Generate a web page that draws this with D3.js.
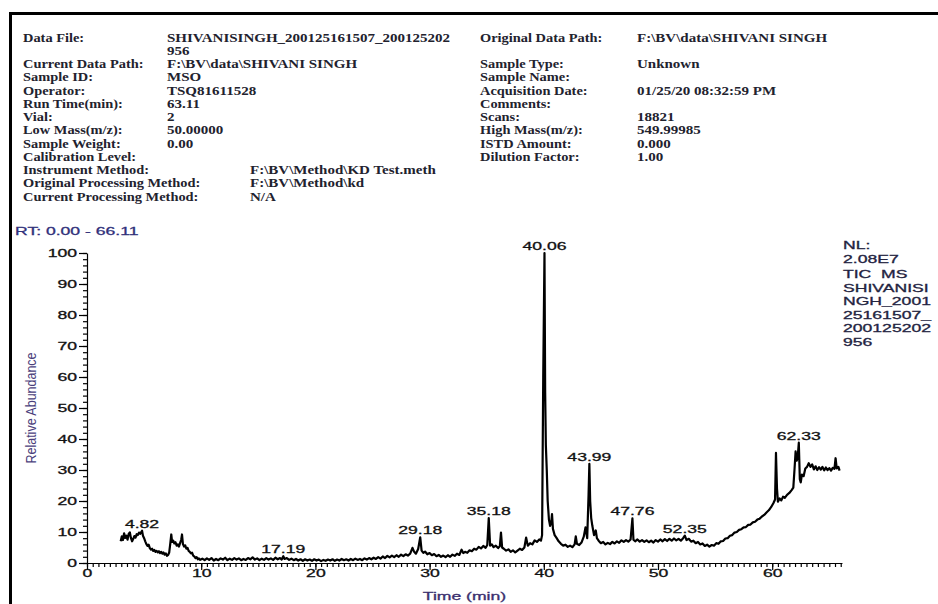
<!DOCTYPE html>
<html>
<head>
<meta charset="utf-8">
<script src="https://cdn.jsdelivr.net/npm/d3@7"></script>
<style>
  html, body { margin: 0; padding: 0; background: #fff; overflow: hidden; }
  .hdr { font-family: "Liberation Serif", "Times New Roman", serif; font-size: 12px; font-weight: bold; fill: #22222e; }
  .lbl { font-family: "Liberation Sans", Arial, sans-serif; font-size: 11px; fill: #111; stroke: #111; stroke-width: 0.3; }
  .axis text { font-family: "Liberation Sans", Arial, sans-serif; font-size: 11px; fill: #111; stroke: #111; stroke-width: 0.3; }
  .axis path, .axis line { stroke: #000; stroke-width: 1.2; }
</style>
</head>
<body>
<div id="chart"></div>
<script>
// ---- header fields (left block rows 0..12, right block rows by index)
var headerLeft = [
  ["Data File:", "SHIVANISINGH_200125161507_200125202"],
  ["", "956"],
  ["Current Data Path:", "F:\\BV\\data\\SHIVANI SINGH"],
  ["Sample ID:", "MSO"],
  ["Operator:", "TSQ81611528"],
  ["Run Time(min):", "63.11"],
  ["Vial:", "2"],
  ["Low Mass(m/z):", "50.00000"],
  ["Sample Weight:", "0.00"],
  ["Calibration Level:", ""],
  ["Instrument Method:", "F:\\BV\\Method\\KD Test.meth"],
  ["Original Processing Method:", "F:\\BV\\Method\\kd"],
  ["Current Processing Method:", "N/A"]
];
var headerRight = [
  ["Original Data Path:", "F:\\BV\\data\\SHIVANI SINGH"],
  null,
  ["Sample Type:", "Unknown"],
  ["Sample Name:", ""],
  ["Acquisition Date:", "01/25/20 08:32:59 PM"],
  ["Comments:", ""],
  ["Scans:", "18821"],
  ["High Mass(m/z):", "549.99985"],
  ["ISTD Amount:", "0.000"],
  ["Dilution Factor:", "1.00"]
];

var rtRange = [0, 66.11];
var nlLines = ["NL:", "2.08E7", "TIC  MS", "SHIVANISI", "NGH_2001", "25161507_", "200125202", "956"];
var peakRTs = [4.82, 17.19, 29.18, 35.18, 40.06, 43.99, 47.76, 52.35, 62.33];
var xMajor = [0, 10, 20, 30, 40, 50, 60];
var yMajor = [0, 10, 20, 30, 40, 50, 60, 70, 80, 90, 100];

// TIC trace, [retention time (min), relative abundance (%)]
var ticTrace = [
  [2.95,7.0],[3.05,8.6],[3.15,7.4],[3.25,9.6],[3.35,8.1],[3.45,8.8],[3.55,7.5],[3.65,9.4],[3.75,9.9],[3.85,8.0],
  [3.95,7.0],[4.05,7.8],[4.15,8.7],[4.25,8.2],[4.35,9.3],[4.45,9.0],[4.55,9.8],[4.65,9.4],[4.75,10.0],[4.82,10.4],
  [4.9,8.8],[5.0,8.0],[5.1,7.0],[5.2,6.1],[5.3,5.5],[5.4,5.9],[5.5,4.8],[5.6,4.3],[5.7,4.6],[5.8,3.9],
  [5.9,4.2],[6.0,3.6],[6.1,3.9],[6.2,3.4],[6.3,3.8],[6.4,3.2],[6.5,3.6],[6.6,3.0],[6.7,3.4],[6.8,2.7],
  [6.9,3.1],[7.0,2.3],[7.1,2.6],[7.2,3.4],[7.3,6.5],[7.38,9.2],[7.45,6.8],[7.55,7.2],[7.65,6.3],[7.75,6.7],
  [7.85,5.6],[7.95,6.0],[8.05,5.3],[8.15,6.4],[8.25,7.5],[8.32,9.2],[8.4,6.1],[8.5,5.3],[8.6,5.7],[8.7,4.6],
  [8.8,4.9],[8.9,3.9],[9.0,3.6],[9.1,3.1],[9.2,3.3],[9.3,2.4],[9.4,2.1],[9.5,1.6],[9.6,1.9],[9.7,1.2],
  [9.8,1.5],[9.9,1.0],[10.1,1.4],[10.3,0.9],[10.5,1.5],[10.7,1.0],[10.9,1.6],[11.1,0.8],[11.3,1.3],[11.5,0.9],
  [11.7,1.5],[11.9,1.1],[12.1,1.7],[12.3,0.9],[12.5,1.4],[12.7,1.0],[12.9,1.6],[13.1,1.1],[13.3,1.5],[13.5,0.9],
  [13.7,1.3],[13.9,1.0],[14.1,1.6],[14.3,1.2],[14.5,1.8],[14.7,1.1],[14.9,1.5],[15.1,0.9],[15.3,1.4],[15.5,1.0],
  [15.7,1.6],[15.9,1.1],[16.1,1.5],[16.3,1.0],[16.5,1.7],[16.7,1.2],[16.9,1.6],[17.05,1.1],[17.19,2.2],[17.3,1.3],
  [17.5,1.6],[17.7,1.0],[17.9,1.4],[18.1,0.9],[18.3,1.3],[18.5,0.8],[18.7,1.2],[18.9,0.7],[19.1,1.2],[19.3,0.8],
  [19.5,1.1],[19.7,0.7],[19.9,1.2],[20.1,0.8],[20.3,1.1],[20.5,0.6],[20.7,1.0],[20.9,0.7],[21.1,1.1],[21.3,0.8],
  [21.5,1.2],[21.7,0.7],[21.9,1.1],[22.1,0.8],[22.3,1.3],[22.5,0.9],[22.7,1.2],[22.9,0.8],[23.1,1.3],[23.3,0.9],
  [23.5,1.4],[23.7,1.0],[23.9,1.3],[24.1,0.9],[24.3,1.5],[24.5,1.1],[24.7,1.6],[24.9,1.2],[25.1,1.7],[25.3,1.3],
  [25.5,1.9],[25.7,1.4],[25.9,2.1],[26.1,1.6],[26.3,2.3],[26.5,1.8],[26.7,2.4],[26.9,1.9],[27.1,2.5],[27.3,2.0],
  [27.5,2.7],[27.7,2.2],[27.9,2.8],[28.1,2.4],[28.3,3.0],[28.5,4.9],[28.65,3.6],[28.8,3.0],[29.0,4.5],[29.18,8.3],
  [29.3,4.0],[29.45,3.3],[29.6,3.7],[29.8,2.8],[30.0,3.2],[30.2,2.5],[30.4,2.9],[30.6,2.2],[30.8,2.6],[31.0,2.0],
  [31.2,2.4],[31.4,1.9],[31.6,2.5],[31.8,2.0],[32.0,2.7],[32.2,2.3],[32.4,3.0],[32.6,2.6],[32.8,4.3],[32.95,3.2],
  [33.1,3.6],[33.3,3.3],[33.5,4.1],[33.7,3.8],[33.9,4.6],[34.1,4.3],[34.3,5.2],[34.5,4.7],[34.7,5.5],[34.9,4.9],
  [35.05,5.8],[35.18,14.5],[35.3,5.6],[35.45,6.0],[35.6,5.1],[35.8,5.6],[36.0,4.8],[36.15,5.4],[36.25,9.8],[36.35,5.0],
  [36.5,4.6],[36.7,4.0],[36.9,4.4],[37.1,3.6],[37.3,4.1],[37.5,3.4],[37.7,4.0],[37.9,4.6],[38.1,4.2],[38.3,5.0],
  [38.45,8.2],[38.6,5.6],[38.8,6.4],[39.0,6.0],[39.2,7.3],[39.4,6.8],[39.6,7.6],[39.75,7.2],[39.85,9.0],[39.95,60],
  [40.06,100],[40.12,55],[40.18,38],[40.26,30],[40.34,20],[40.45,14.0],[40.55,12.0],[40.65,13.0],[40.72,15.8],[40.8,11.0],
  [40.95,9.0],[41.1,8.2],[41.3,7.0],[41.5,6.2],[41.7,5.6],[41.9,5.9],[42.1,5.2],[42.3,5.6],[42.5,5.1],[42.7,6.0],
  [42.8,8.6],[42.9,6.2],[43.1,5.8],[43.3,6.6],[43.5,8.5],[43.65,11.5],[43.8,8.0],[43.92,22],[43.99,32.0],[44.06,20],
  [44.15,14.5],[44.25,12.0],[44.4,9.0],[44.55,10.5],[44.65,8.0],[44.8,7.2],[45.0,6.4],[45.2,6.8],[45.4,6.0],[45.6,6.5],
  [45.8,6.1],[46.0,6.8],[46.2,6.3],[46.4,7.0],[46.6,6.5],[46.8,7.3],[47.0,6.8],[47.2,7.4],[47.4,6.9],[47.6,7.6],
  [47.76,14.4],[47.85,7.5],[48.0,7.0],[48.2,7.6],[48.4,6.9],[48.6,7.4],[48.8,6.8],[49.0,7.3],[49.2,6.7],[49.4,7.2],
  [49.6,6.6],[49.8,7.4],[50.0,6.9],[50.2,7.6],[50.4,7.0],[50.6,7.7],[50.8,7.1],[51.0,7.8],[51.2,7.2],[51.4,7.9],
  [51.6,7.3],[51.8,7.8],[52.0,7.2],[52.2,8.0],[52.35,8.8],[52.5,7.4],[52.7,7.8],[52.9,6.9],[53.1,7.2],[53.3,6.4],
  [53.5,6.8],[53.7,6.0],[53.9,6.3],[54.1,5.5],[54.3,5.9],[54.5,5.3],[54.7,5.8],[54.9,5.6],[55.1,6.4],[55.3,6.2],
  [55.5,7.0],[55.7,7.1],[55.9,7.9],[56.1,8.0],[56.3,8.8],[56.5,9.0],[56.7,9.8],[56.9,10.0],[57.1,10.7],[57.3,10.9],
  [57.5,11.5],[57.7,11.6],[57.9,12.3],[58.1,12.4],[58.3,13.1],[58.5,13.3],[58.7,14.0],[58.9,14.3],[59.1,15.0],[59.3,15.5],
  [59.5,16.3],[59.7,17.0],[59.9,18.0],[60.1,19.3],[60.25,20.5],[60.33,35.5],[60.42,24],[60.5,19.8],[60.65,20.8],[60.8,20.2],
  [60.95,21.4],[61.1,21.0],[61.3,22.0],[61.5,22.6],[61.7,23.5],[61.85,24.3],[61.95,30],[62.05,36],[62.15,33],[62.25,35],
  [62.33,38.8],[62.42,27.0],[62.5,26.0],[62.6,28.5],[62.75,28.0],[62.9,30.5],[63.05,31.0],[63.2,32.2],[63.35,31.0],[63.5,31.8],
  [63.65,30.2],[63.8,31.2],[63.95,30.0],[64.1,30.9],[64.25,30.1],[64.4,31.0],[64.55,29.9],[64.7,30.8],[64.85,30.0],[65.0,30.6],
  [65.15,29.8],[65.3,30.7],[65.45,30.4],[65.55,33.8],[65.65,30.5],[65.8,31.0],[65.9,29.8]
];

var width = 938, height = 604;
var svg = d3.select("#chart").append("svg")
  .attr("width", width).attr("height", height);

// page frame (top and left rules)
svg.append("rect").attr("x", 9).attr("y", 12).attr("width", width - 9).attr("height", 3).attr("fill", "#000");
svg.append("rect").attr("x", 9).attr("y", 12).attr("width", 3).attr("height", height - 12).attr("fill", "#000");

// text in the source is drawn wide, so stretch horizontally
function wideText(parent, cls, x, y, str, sx) {
  return parent.append("text")
    .attr("class", cls)
    .attr("transform", "translate(" + x + "," + y + ") scale(" + sx + ",1)")
    .style("white-space", "pre")
    .text(str);
}

// ---- header
var hdr = svg.append("g");
var rowY = function (i) { return 41.5 + i * 13.25; };
headerLeft.forEach(function (r, i) {
  if (r[0]) wideText(hdr, "hdr", 23, rowY(i), r[0], 1.2);
  if (r[1]) wideText(hdr, "hdr", i >= 10 ? 250 : 167, rowY(i), r[1], 1.25);
});
headerRight.forEach(function (r, i) {
  if (!r) return;
  wideText(hdr, "hdr", 480, rowY(i), r[0], 1.2);
  if (r[1]) wideText(hdr, "hdr", 637, rowY(i), r[1], 1.25);
});

// ---- chart
var x = d3.scaleLinear().domain(rtRange).range([87, 87 + rtRange[1] * 11.42]);
var y = d3.scaleLinear().domain([0, 100]).range([563, 253]);

wideText(svg, "lbl", 15, 235, "RT: " + d3.format(".2f")(rtRange[0]) + " - " + d3.format(".2f")(rtRange[1]), 1.6)
  .style("fill", "#30307a").style("stroke", "#30307a");

// x axis
var gx = svg.append("g").attr("class", "axis").attr("transform", "translate(0," + y(0) + ")");
gx.call(d3.axisBottom(x).tickValues(d3.range(0, rtRange[1], 0.5)).tickSize(4).tickSizeOuter(0).tickFormat(""));
gx.append("g").call(d3.axisBottom(x).tickValues(xMajor).tickSize(7).tickSizeOuter(0).tickFormat(d3.format("d")))
  .call(function (g) { g.select(".domain").remove(); });
gx.selectAll("text").attr("y", 6).attr("transform", "scale(1.6,1)").attr("fill", "#111");

// y axis
var gy = svg.append("g").attr("class", "axis").attr("transform", "translate(" + x(0) + ",0)");
gy.call(d3.axisLeft(y).tickValues(d3.range(0, 101, 2)).tickSize(4).tickSizeOuter(0).tickFormat(""));
gy.append("g").call(d3.axisLeft(y).tickValues(yMajor).tickSize(8).tickSizeOuter(0).tickFormat(d3.format("d")))
  .call(function (g) { g.select(".domain").remove(); });
gy.selectAll("text").attr("x", -10 / 1.6).attr("transform", "scale(1.6,1)").attr("fill", "#111");

// axis titles
wideText(svg, "lbl", (x.range()[0] + x.range()[1]) / 2, 600, "Time (min)", 1.6)
  .attr("text-anchor", "middle").style("fill", "#3b2f6e").style("stroke", "#3b2f6e");
svg.append("text")
  .attr("class", "lbl")
  .attr("transform", "translate(36," + (y(50)) + ") rotate(-90) scale(1,1.2)")
  .attr("text-anchor", "middle")
  .style("font-size", "12.5px")
  .style("fill", "#4b3f7c")
  .style("stroke", "none")
  .text("Relative Abundance");

// trace
var line = d3.line().x(function (d) { return x(d[0]); }).y(function (d) { return y(d[1]); });
svg.append("path")
  .datum(ticTrace)
  .attr("d", line)
  .attr("fill", "none")
  .attr("stroke", "#000")
  .attr("stroke-width", 2.2)
  .attr("stroke-linejoin", "round");

// peak labels
var peakG = svg.append("g");
peakRTs.forEach(function (rt) {
  var pt = ticTrace.find(function (d) { return d[0] === rt; });
  wideText(peakG, "lbl", x(rt), y(pt[1]) - 3, d3.format(".2f")(rt), 1.6)
    .attr("text-anchor", "middle");
});

// normalisation label block
var nlG = svg.append("g");
nlLines.forEach(function (s, i) {
  wideText(nlG, "lbl", 843, 249 + i * 13.5 + (i >= 2 ? 2 : 0), s, 1.6)
    .style("fill", "#23233f").style("stroke", "#23233f");
});
</script>
</body>
</html>
